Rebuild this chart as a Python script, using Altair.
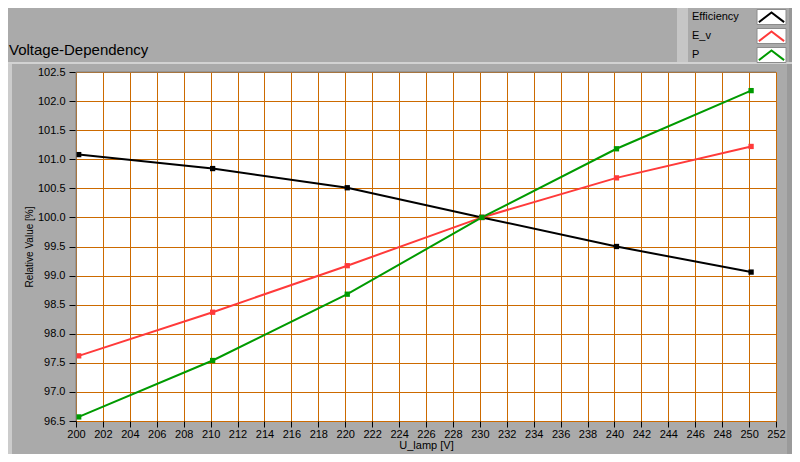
import altair as alt
import pandas as pd

# ---- data ----
U_LAMP = [200.2, 210.15, 220.15, 230.15, 240.15, 250.15]
EFFICIENCY = [101.08, 100.84, 100.51, 100.00, 99.50, 99.06]
E_V = [97.62, 98.37, 99.17, 100.00, 100.68, 101.22]
P = [96.57, 97.54, 98.68, 100.00, 101.18, 102.18]
SERIES = ["Efficiency", "E_v", "P"]
X_TICKS = [200, 202, 204, 206, 208, 210, 212, 214, 216, 218, 220, 222, 224, 226,
           228, 230, 232, 234, 236, 238, 240, 242, 244, 246, 248, 250, 252]
Y_TICKS = [96.5, 97.0, 97.5, 98.0, 98.5, 99.0, 99.5, 100.0, 100.5, 101.0, 101.5, 102.0, 102.5]
TITLE = "Voltage-Dependency"

# ---- styles ----
COLORS = ["#000000", "#ff3a3a", "#009a00"]
GRID = "#cc6a00"
BG = "#aaaaaa"
FONT = "Liberation Sans"
W, H = 700, 349

rows = []
for name, vals in zip(SERIES, [EFFICIENCY, E_V, P]):
    for u, v in zip(U_LAMP, vals):
        rows.append({"U": u, "value": v, "series": name})
df = pd.DataFrame(rows)
one = pd.DataFrame({"k": [0]})


def deco_rect(x, x2, y, y2, color, stroke=None):
    kw = {"color": color}
    if stroke:
        kw.update(stroke=stroke, strokeWidth=1)
    return alt.Chart(one).mark_rect(**kw).encode(
        x=alt.value(x), x2=alt.value(x2), y=alt.value(y), y2=alt.value(y2))


layers = [
    deco_rect(-68, -64, -8, 382, "#cccccc"),          # left light strip
    deco_rect(-68, 716, -10, -8, "#d2d2d2"),          # light separator line
    deco_rect(601, 612, -64, -10, "#c6c6c6"),         # legend panel left strip
    deco_rect(713, 716, -64, -10, "#979797"),         # legend panel right edge
    deco_rect(711, 716, -8, 382, "#9a9a9a"),          # main panel right edge
]

lines = alt.Chart(df).mark_line(
    strokeWidth=2,
    point=alt.OverlayMarkDef(shape="square", size=28, filled=True, opacity=1),
).encode(
    x=alt.X("U:Q",
            scale=alt.Scale(domain=[200, 252], nice=False, zero=False),
            axis=alt.Axis(values=X_TICKS, format="d", title="U_lamp [V]",
                          labelOverlap=False, labelFlush=False,
                          tickSize=6, labelPadding=1, titlePadding=0,
                          titleFontSize=11)),
    y=alt.Y("value:Q",
            scale=alt.Scale(domain=[96.5, 102.5], nice=False, zero=False),
            axis=alt.Axis(values=Y_TICKS, format=".1f", title="Relative Value [%]",
                          labelOverlap=False, labelFlush=False,
                          tickSize=7, labelPadding=4, titlePadding=3,
                          titleFontSize=10)),
    color=alt.Color("series:N", scale=alt.Scale(domain=SERIES, range=COLORS), legend=None),
)
layers.append(lines)

# plot frame (top and left grey border)
layers.append(alt.Chart(one).mark_rule(color="#808080", strokeWidth=1).encode(
    x=alt.value(0), x2=alt.value(W), y=alt.value(0)))
layers.append(alt.Chart(one).mark_rule(color="#808080", strokeWidth=1).encode(
    x=alt.value(0), y=alt.value(0), y2=alt.value(H)))

# chart title
layers.append(alt.Chart(pd.DataFrame({"t": [TITLE]})).mark_text(
    align="left", baseline="alphabetic", font=FONT, fontSize=15, color="#000000"
).encode(x=alt.value(-67), y=alt.value(-17), text="t:N"))

# custom legend (labels left, line icons in white boxes on the right)
LEG_CY = [-55, -36, -17]
caret = "M-1,0.38L0,-0.38L1,0.38"
for name, col, cy in zip(SERIES, COLORS, LEG_CY):
    ldf = pd.DataFrame({"series": [name]})
    layers.append(alt.Chart(ldf).mark_text(
        align="left", baseline="middle", font=FONT, fontSize=11, color="#000000"
    ).encode(x=alt.value(616), y=alt.value(cy), text="series:N"))
    layers.append(deco_rect(681, 710, cy - 7.5, cy + 7.5, "#ffffff", stroke="#8c8c8c"))
    layers.append(alt.Chart(ldf).mark_point(
        shape=caret, size=560, filled=False, strokeWidth=2, opacity=1, color=col,
        strokeCap="square"
    ).encode(x=alt.value(695.5), y=alt.value(cy)))

chart = alt.layer(*layers).properties(
    width=W, height=H,
    autosize=alt.AutoSizeParams(type="none"),
    padding={"left": 68, "top": 64, "right": 16, "bottom": 33},
    background=BG,
).configure_view(
    stroke=None, fill="#ffffff"
).configure_axis(
    grid=True, gridColor=GRID, gridOpacity=1, gridWidth=1,
    domain=False, tickColor="#000000", tickWidth=1,
    labelFont=FONT, labelFontSize=11, labelColor="#000000",
    titleFont=FONT, titleFontWeight="normal", titleColor="#000000",
)

chart.save("out.html", embed_options={"renderer": "svg", "actions": False})
